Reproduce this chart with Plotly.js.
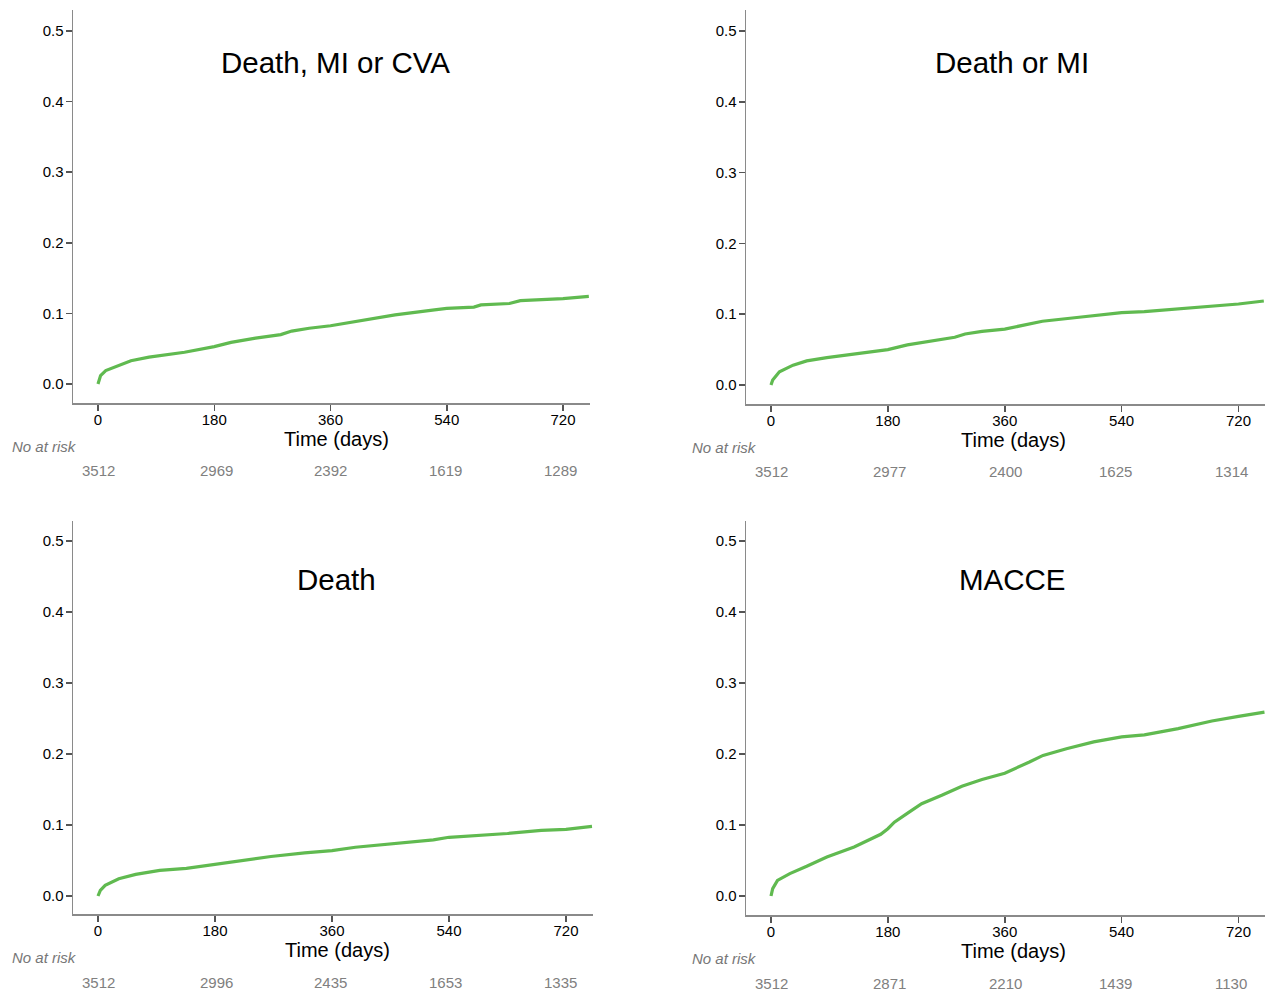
<!DOCTYPE html>
<html>
<head>
<meta charset="utf-8">
<script src="https://cdn.plot.ly/plotly-3.0.1.min.js"></script>
<style>html,body{margin:0;padding:0;background:#fff;}#chart{width:1269px;height:993px;}</style>
</head>
<body>
<div id="chart"></div>
<script>
// ---- data ----
const panelTitles = ["Death, MI or CVA", "Death or MI", "Death", "MACCE"];
const xTicks = [0, 180, 360, 540, 720];
const yTicks = [0.0, 0.1, 0.2, 0.3, 0.4, 0.5];
const yTickLabels = ["0.0", "0.1", "0.2", "0.3", "0.4", "0.5"];

const daysDMC = [0, 4, 12, 34, 51, 79, 106, 134, 180, 206, 244, 283, 300, 327, 360, 410, 460, 521, 540, 582, 593, 637, 654, 720, 760];
const valsDMC = [0, 0.012, 0.019, 0.027, 0.033, 0.038, 0.0415, 0.045, 0.053, 0.059, 0.065, 0.070, 0.075, 0.079, 0.0825, 0.0905, 0.098, 0.105, 0.107, 0.109, 0.112, 0.114, 0.118, 0.121, 0.124];

const daysDM = [0, 2.6, 13, 34, 55, 86, 133, 180, 210, 242, 283, 299, 325, 360, 392, 418, 471, 523, 540, 575, 638, 679, 720, 759];
const valsDM = [0, 0.007, 0.0186, 0.028, 0.034, 0.0386, 0.0442, 0.050, 0.0567, 0.0614, 0.0674, 0.0721, 0.0758, 0.079, 0.0856, 0.090, 0.0953, 0.101, 0.1023, 0.1037, 0.108, 0.1116, 0.1144, 0.1186];

const daysD = [0, 3.6, 11, 32, 58, 95, 136, 180, 214, 266, 318, 360, 396, 474, 516, 540, 578, 630, 682, 720, 760];
const valsD = [0, 0.008, 0.015, 0.0243, 0.0304, 0.036, 0.039, 0.0444, 0.049, 0.0556, 0.0607, 0.064, 0.0687, 0.0757, 0.079, 0.0827, 0.0846, 0.088, 0.0925, 0.0939, 0.098];

const daysM = [0, 2.6, 10, 29, 55, 86, 128, 169, 180, 190, 211, 232, 263, 294, 325, 360, 398, 419, 455, 497, 540, 575, 627, 679, 720, 760];
const valsM = [0, 0.0103, 0.022, 0.0315, 0.0418, 0.055, 0.069, 0.0869, 0.0948, 0.104, 0.117, 0.130, 0.1418, 0.1545, 0.164, 0.173, 0.1887, 0.198, 0.2075, 0.217, 0.224, 0.227, 0.2357, 0.2465, 0.253, 0.259];

const atRiskDMC = ["3512", "2969", "2392", "1619", "1289"];
const atRiskDM  = ["3512", "2977", "2400", "1625", "1314"];
const atRiskD   = ["3512", "2996", "2435", "1653", "1335"];
const atRiskM   = ["3512", "2871", "2210", "1439", "1130"];

// ---- layout geometry (pixels) ----
const W = 1269, H = 993;
const panels = [
  {days: daysDMC, vals: valsDMC, risk: atRiskDMC, x0: 73,  x1: 590,  y0: 10,  y1: 403, riskX: [98, 216, 330, 445, 560], titleX: 335, titleY: 62},
  {days: daysDM,  vals: valsDM,  risk: atRiskDM,  x0: 746, x1: 1265, y0: 10,  y1: 404, riskX: [771, 889, 1005, 1115, 1231], titleX: 1012, titleY: 62},
  {days: daysD,   vals: valsD,   risk: atRiskD,   x0: 73,  x1: 593,  y0: 521, y1: 914, riskX: [98, 216, 330, 445, 560], titleX: 336, titleY: 579},
  {days: daysM,   vals: valsM,   risk: atRiskM,   x0: 746, x1: 1265, y0: 521, y1: 915, riskX: [771, 889, 1005, 1115, 1231], titleX: 1012, titleY: 579}
];

const green = "rgb(96,186,80)";
const axisGray = "#8a8a8a";
const textFont = "Liberation Sans, Arial, Helvetica, sans-serif";

const traces = [];
const layout = {
  width: W, height: H,
  margin: {l: 0, r: 0, t: 0, b: 0},
  paper_bgcolor: "#ffffff",
  plot_bgcolor: "#ffffff",
  showlegend: false,
  font: {family: textFont, color: "#000"},
  annotations: []
};

panels.forEach((p, i) => {
  const n = i + 1;
  const xa = "xaxis" + (n === 1 ? "" : n);
  const ya = "yaxis" + (n === 1 ? "" : n);
  traces.push({
    x: p.days, y: p.vals, type: "scatter", mode: "lines",
    line: {color: green, width: 3.2, shape: "linear"},
    xaxis: "x" + (n === 1 ? "" : n), yaxis: "y" + (n === 1 ? "" : n),
    hoverinfo: "skip"
  });
  const xPx0 = p.x0 + 25;
  const k = (i === 0) ? (563 - 98) / 720 : ((i === 2) ? (566 - 98) / 720 : (1238.5 - 771) / 720);
  const xr = [(p.x0 - xPx0) / k, (p.x1 - xPx0) / k];
  const yZero = (i < 2) ? (i === 0 ? 384 : 385) : 896;
  const yHalf = (i < 2) ? 31 : 541;
  const ky = (yZero - yHalf) / 0.5;
  const yr = [(yZero - p.y1) / ky, (yZero - p.y0) / ky];

  layout[xa] = {
    domain: [p.x0 / W, p.x1 / W],
    range: xr,
    anchor: "y" + (n === 1 ? "" : n),
    tickvals: xTicks, ticktext: xTicks.map(String),
    ticks: "outside", ticklen: 6, tickwidth: 1.5, tickcolor: "#555",
    ticklabelstandoff: -4,
    showline: true, linecolor: axisGray, linewidth: 1.5,
    showgrid: false, zeroline: false,
    tickfont: {family: textFont, size: 15, color: "#000"},
    fixedrange: true
  };
  layout[ya] = {
    domain: [1 - p.y1 / H, 1 - p.y0 / H],
    range: yr,
    anchor: "x" + (n === 1 ? "" : n),
    tickvals: yTicks, ticktext: yTickLabels,
    ticks: "outside", ticklen: 6, tickwidth: 1.5, tickcolor: "#555",
    ticklabelstandoff: -1,
    showline: true, linecolor: axisGray, linewidth: 1.5,
    showgrid: false, zeroline: false,
    tickfont: {family: textFont, size: 15, color: "#000"},
    fixedrange: true
  };

  layout.annotations.push({
    text: panelTitles[i], xref: "paper", yref: "paper",
    x: p.titleX / W, y: 1 - p.titleY / H, xanchor: "center", yanchor: "middle",
    showarrow: false, font: {family: textFont, size: 29.5, color: "#000"}
  });
  layout.annotations.push({
    text: "Time (days)", xref: "paper", yref: "paper",
    x: (p.titleX + 1) / W, y: 1 - (p.y1 + 36) / H, xanchor: "center", yanchor: "middle",
    showarrow: false, font: {family: textFont, size: 20, color: "#000"}
  });
  layout.annotations.push({
    text: "<i>No at risk</i>", xref: "paper", yref: "paper",
    x: (i % 2 === 0 ? 10 : 690) / W, y: 1 - (p.y1 + 43) / H, xanchor: "left", yanchor: "middle",
    showarrow: false, font: {family: textFont, size: 15, color: "#777"}
  });
  p.risk.forEach((r, j) => {
    layout.annotations.push({
      text: r, xref: "paper", yref: "paper",
      x: p.riskX[j] / W, y: 1 - (p.y1 + 68) / H, xanchor: "center", yanchor: "middle",
      showarrow: false, font: {family: textFont, size: 15, color: "#808080"}
    });
  });
});

Plotly.newPlot("chart", traces, layout, {displayModeBar: false, staticPlot: true});
</script>
</body>
</html>
